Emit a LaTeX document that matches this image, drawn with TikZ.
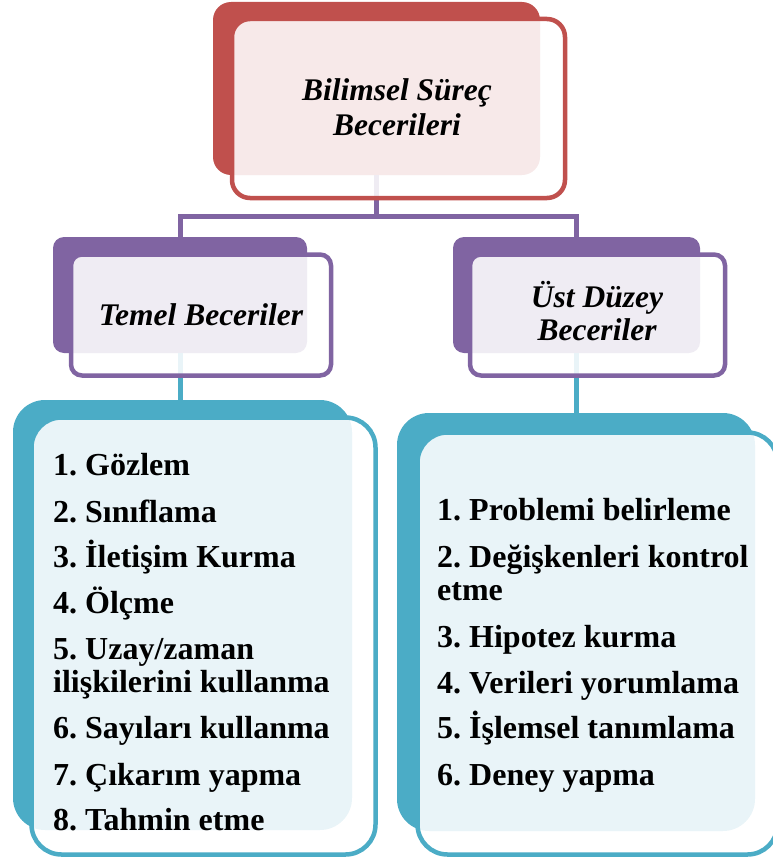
\documentclass[tikz,border=0pt]{standalone}
\usepackage{fontspec}
\setmainfont{Liberation Serif}
\frenchspacing
\definecolor{cred}{HTML}{C0504D}
\definecolor{cpurple}{HTML}{8064A2}
\definecolor{cteal}{HTML}{4BACC6}
\begin{document}
\begin{tikzpicture}[x=1pt,y=-1pt,
  backbox/.style={rectangle, anchor=north west, inner sep=0pt, outer sep=0pt, fill=#1},
  frontbox/.style={rectangle, anchor=north west, inner sep=0pt, outer sep=0pt, draw=#1, line width=4.5pt, fill=white, fill opacity=0.88, draw opacity=1},
  conn/.style={line width=5pt, draw=#1},
  headtxt/.style={anchor=base, inner sep=0pt, font=\fontsize{31.5}{34}\selectfont\bfseries\itshape},
  listtxt/.style={anchor=base west, inner sep=0pt, font=\fontsize{32}{34}\selectfont\bfseries}
]
\useasboundingbox (0,0) rectangle (773,859);

% back boxes
\node[backbox=cred, rounded corners=18pt, minimum width=327pt, minimum height=173pt] (topback) at (213,2) {};
\node[backbox=cpurple, rounded corners=11pt, minimum width=254pt, minimum height=116pt] (leftback) at (53,237) {};
\node[backbox=cpurple, rounded corners=11pt, minimum width=247pt, minimum height=116pt] (rightback) at (453,237) {};
\node[backbox=cteal, rounded corners=32pt, minimum width=339pt, minimum height=430pt] (listLback) at (13,400) {};
\node[backbox=cteal, rounded corners=32pt, minimum width=358pt, minimum height=418pt] (listRback) at (397,413) {};

% connectors
\draw[conn=cpurple] (topback.south) -- ++(0,41) -| (leftback.north);
\draw[conn=cpurple] (topback.south) -- ++(0,41) -| (rightback.north);
\draw[conn=cteal] (leftback.south) -- (leftback.south |- listLback.north);
\draw[conn=cteal] (rightback.south) -- (rightback.south |- listRback.north);

% front boxes
\node[frontbox=cred, rounded corners=18pt, minimum width=333pt, minimum height=179pt] (topfront) at (232,19) {};
\node[frontbox=cpurple, rounded corners=11pt, minimum width=260pt, minimum height=121pt] (leftfront) at (71,254.5) {};
\node[frontbox=cpurple, rounded corners=11pt, minimum width=255pt, minimum height=121pt] (rightfront) at (470,254.5) {};
\node[frontbox=cteal, rounded corners=30pt, minimum width=344pt, minimum height=437pt] (listLfront) at (31.5,417.5) {};
\node[frontbox=cteal, rounded corners=30pt, minimum width=360pt, minimum height=422pt] (listRfront) at (417.5,432.5) {};

% header texts
\node[headtxt] (topA) at (397,100) {Bilimsel Süreç};
\node[headtxt] (topB) at (397,135) {Becerileri};
\node[headtxt] (leftA) at (201,325) {Temel Beceriler};
\node[headtxt] (rightA) at (597,307) {Üst Düzey};
\node[headtxt] (rightB) at (597,340) {Beceriler};

% left list
\node[listtxt] (l1) at (53,475) {1. Gözlem};
\node[listtxt] (l2) at (53,522) {2. Sınıflama};
\node[listtxt] (l3) at (53,567) {3. İletişim Kurma};
\node[listtxt] (l4) at (53,613) {4. Ölçme};
\node[listtxt] (l5a) at (53,659) {5. Uzay/zaman};
\node[listtxt] (l5b) at (53,692) {ilişkilerini kullanma};
\node[listtxt] (l6) at (53,738) {6. Sayıları kullanma};
\node[listtxt] (l7) at (53,785) {7. Çıkarım yapma};
\node[listtxt] (l8) at (53,830) {8. Tahmin etme};

% right list
\node[listtxt] (r1) at (437,520) {1. Problemi belirleme};
\node[listtxt] (r2a) at (437,567) {2. Değişkenleri kontrol};
\node[listtxt] (r2b) at (437,600) {etme};
\node[listtxt] (r3) at (437,647) {3. Hipotez kurma};
\node[listtxt] (r4) at (437,693) {4. Verileri yorumlama};
\node[listtxt] (r5) at (437,738) {5. İşlemsel tanımlama};
\node[listtxt] (r6) at (437,785) {6. Deney yapma};
\end{tikzpicture}
\end{document}
